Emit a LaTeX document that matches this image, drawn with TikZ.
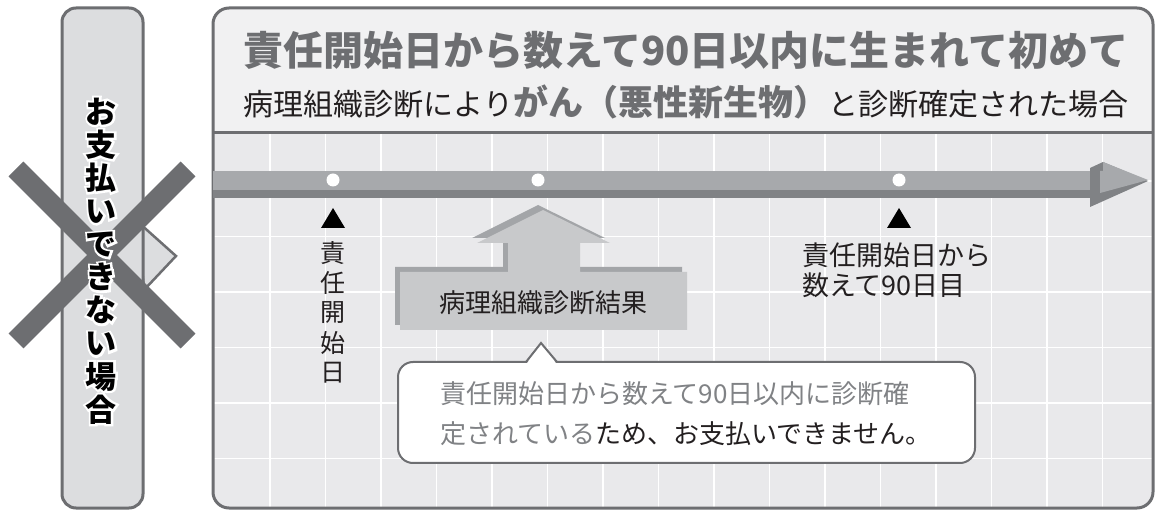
\documentclass[tikz,border=0pt]{standalone}
\usepackage{fontspec}
\setmainfont{Noto Sans CJK JP}
\newfontfamily\halofont{Noto Sans CJK JP}[BoldFeatures={FakeBold=14}]
\definecolor{bord}{HTML}{6D6E71}
\definecolor{bodybg}{HTML}{E9E9EB}
\definecolor{headbg}{HTML}{F1F1F2}
\definecolor{leftbg}{HTML}{DCDDDF}
\definecolor{arlight}{HTML}{A7A9AC}
\definecolor{ardark}{HTML}{808285}
\definecolor{boxlight}{HTML}{C8C9CB}
\definecolor{boxdark}{HTML}{A3A5A8}
\definecolor{txtgray}{HTML}{6D6E71}
\definecolor{calltxt}{HTML}{808285}
\definecolor{ink}{HTML}{231F20}
\tikzset{
  fs/.style={font=\fontsize{#1}{#1}\selectfont},
  bfs/.style={font=\bfseries\fontsize{#1}{#1}\selectfont},
  gridline/.style={white, line width=1.8pt},
  borderline/.style={bord, line width=3pt},
  dot/.style={circle, fill=white, minimum size=13pt, inner sep=0pt},
  vcol/.style={align=center, font=\bfseries\fontsize{31}{33.1}\selectfont},
}
\newcommand{\leftlabel}{お\\支\\払\\い\\で\\き\\な\\い\\場\\合}
\begin{document}
\begin{tikzpicture}[x=1pt,y=-1pt, every node/.style={inner sep=0pt, outer sep=0pt, text=ink}]
\useasboundingbox (0,0) rectangle (1157,510);

% ---------- left panel ----------
\draw[fill=leftbg, draw=bord, line width=2.5pt, line join=miter] (138,222)--(176,256)--(144,290)--cycle;
\draw[fill=leftbg, draw=bord, line width=3pt, rounded corners=14pt] (62,8) rectangle (143,508);
\draw[bord, line width=21pt] (16,169)--(188,341);
\draw[bord, line width=21pt] (188,169)--(16,341);
\node[vcol, text=white, font=\halofont\bfseries\fontsize{31}{33.1}\selectfont] (Lhalo) at (101,261) {\leftlabel};
\node[vcol, text=black] (L) at (101,261) {\leftlabel};

% ---------- main panel ----------
\begin{scope}
  \clip[rounded corners=16pt] (213,8) rectangle (1153,508);
  \fill[bodybg] (213,8) rectangle (1153,508);
  \fill[headbg] (213,8) rectangle (1153,133);
  \foreach \k in {0,...,15} \draw[gridline] ({270+55.5*\k},133) -- ({270+55.5*\k},508);
  \foreach \k in {0,...,5} \draw[gridline] (213,{181+55.5*\k}) -- (1153,{181+55.5*\k});
\end{scope}
\draw[borderline, rounded corners=16pt] (213,8) rectangle (1153,508);
\draw[borderline] (213,133) -- (1153,133);

% header
\node[bfs=40, text=txtgray] (h1) at (686,50) {責任開始日から数えて90日以内に生まれて初めて};
\node[fs=30] (h2) at (686,102) {病理組織診断により{\bfseries\color{txtgray}\fontsize{35}{35}\selectfont がん（悪性新生物）}と診断確定された場合};

% timeline arrow
\fill[arlight] (213,171) rectangle (1100,190);
\fill[ardark] (213,190) rectangle (1100,198);
\fill[ardark] (1090,168)--(1103,162)--(1148,181)--(1090,207)--cycle;
\fill[arlight] (1103,162)--(1148,180)--(1100,193)--(1100,171)--(1103,171)--cycle;

\node[dot] (d1) at (333,180) {};
\node[dot] (d2) at (538,180) {};
\node[dot] (d3) at (899,180) {};

% markers
\fill[black] (321,228)--(345,228)--(333,208)--cycle;
\fill[black] (887,228)--(911,228)--(899,208)--cycle;
\foreach \c [count=\i] in {責,任,開,始,日}
  \node[fs=25] (v\i) at (333,{253+(\i-1)*30}) {\c};
\node[fs=27, anchor=west] (r1) at (802,255) {責任開始日から};
\node[fs=27, anchor=west] (r2) at (802,285) {数えて90日目};

% up arrow block
\fill[boxdark] (395,267)--(503,267)--(503,238)--(472,238)--(538,205)--(605,238)--(575,238)--(575,267)--(682,267)--(682,325)--(395,325)--cycle;
\fill[boxlight] (400,272)--(508,272)--(508,243)--(477,243)--(543,210)--(610,243)--(580,243)--(580,272)--(687,272)--(687,330)--(400,330)--cycle;
\node[fs=26] (bt) at (543,303) {病理組織診断結果};

% callout
\draw[fill=white, draw=bord, line width=2pt, rounded corners=15pt] (398,362) rectangle (975,463);
\fill[white] (526,364.5)--(541,343)--(557,364.5)--cycle;
\draw[bord, line width=2pt, line join=miter] (526,362)--(541,343)--(557,362);
\node[fs=26, anchor=west, text=calltxt] (c1) at (440,394) {責任開始日から数えて90日以内に診断確};
\node[fs=26, anchor=west] (c2) at (440,434) {{\color{calltxt}定されている}ため、お支払いできません。};
\end{tikzpicture}
\end{document}
